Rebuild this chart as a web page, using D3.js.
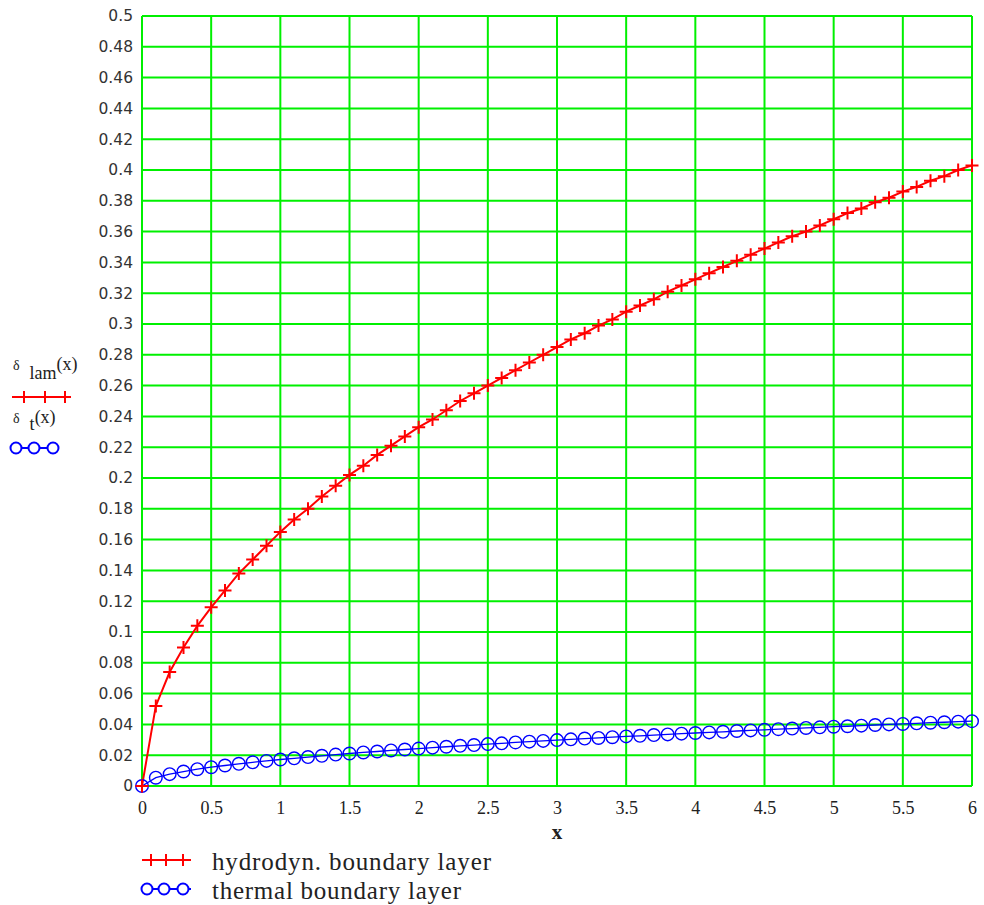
<!DOCTYPE html>
<html>
<head>
<meta charset="utf-8">
<script src="https://cdn.jsdelivr.net/npm/d3@7"></script>
<style>
  body { margin: 0; background: #fff; }
  .y.axis text { font-family: "DejaVu Sans", sans-serif; font-size: 15.5px; fill: #333; }
  .x.axis text { font-family: "Liberation Serif", serif; font-size: 18px; fill: #222; }
  .axis .domain { display: none; }
  .grid line { stroke: #00f000; stroke-width: 2; }
  .lbl { font-family: "Liberation Serif", serif; fill: #222; }
</style>
</head>
<body>
<svg id="chart" width="984" height="905"></svg>
<script>
const xValues = d3.range(61).map(i => i / 10);
const hydroValues = [0, 0.052, 0.074, 0.090, 0.104, 0.116, 0.127, 0.138, 0.147, 0.156,
  0.165, 0.173, 0.180, 0.188, 0.195, 0.202, 0.208, 0.215, 0.221, 0.227,
  0.233, 0.238, 0.244, 0.250, 0.255, 0.260, 0.265, 0.270, 0.275, 0.280,
  0.285, 0.290, 0.294, 0.299, 0.303, 0.308, 0.312, 0.316, 0.321, 0.325,
  0.329, 0.333, 0.337, 0.341, 0.345, 0.349, 0.353, 0.357, 0.360, 0.364,
  0.368, 0.372, 0.375, 0.379, 0.382, 0.386, 0.389, 0.393, 0.396, 0.400, 0.403];
const thermalValues = [0, 0.0054, 0.0077, 0.0094, 0.0109, 0.0122, 0.0133, 0.0144, 0.0154, 0.0163,
  0.0172, 0.0180, 0.0188, 0.0196, 0.0204, 0.0211, 0.0218, 0.0224, 0.0231, 0.0237,
  0.0243, 0.0249, 0.0255, 0.0261, 0.0266, 0.0272, 0.0277, 0.0283, 0.0288, 0.0293,
  0.0298, 0.0303, 0.0308, 0.0312, 0.0317, 0.0322, 0.0326, 0.0331, 0.0335, 0.0340,
  0.0344, 0.0348, 0.0352, 0.0357, 0.0361, 0.0365, 0.0369, 0.0373, 0.0377, 0.0381,
  0.0385, 0.0388, 0.0392, 0.0396, 0.0400, 0.0403, 0.0407, 0.0411, 0.0414, 0.0418, 0.0421];
const xTicks = d3.range(13).map(i => i / 2);
const yTicks = d3.range(26).map(i => i / 50);
const legendLabels = ['hydrodyn. boundary layer', 'thermal boundary layer'];

const margin = {left: 142, right: 12, top: 16, bottom: 119};
const width = 984 - margin.left - margin.right;
const height = 905 - margin.top - margin.bottom;

const svg = d3.select('#chart');
const g = svg.append('g').attr('transform', `translate(${margin.left},${margin.top})`);

const x = d3.scaleLinear().domain([0, 6]).range([0, width]);
const y = d3.scaleLinear().domain([0, 0.5]).range([height, 0]);

// grid
g.append('g').attr('class', 'grid')
    .selectAll('line').data(xTicks).join('line')
    .attr('x1', d => x(d)).attr('x2', d => x(d)).attr('y1', 0).attr('y2', height);
g.append('g').attr('class', 'grid')
    .selectAll('line').data(yTicks).join('line')
    .attr('x1', 0).attr('x2', width).attr('y1', d => y(d)).attr('y2', d => y(d));

g.append('g').attr('class', 'y axis')
    .call(d3.axisLeft(y).tickValues(yTicks).tickSize(0).tickPadding(9).tickFormat(d => +d.toFixed(2)));
g.append('g').attr('class', 'x axis')
    .attr('transform', `translate(0,${height})`)
    .call(d3.axisBottom(x).tickValues(xTicks).tickSize(0).tickPadding(15).tickFormat(d => d));

const line = d3.line().x((d, i) => x(xValues[i])).y(d => y(d));

g.append('path').attr('d', line(thermalValues))
    .attr('fill', 'none').attr('stroke', '#0000ff').attr('stroke-width', 1.3);
g.append('path').attr('d', line(hydroValues))
    .attr('fill', 'none').attr('stroke', '#ff0000').attr('stroke-width', 2);

g.append('g').selectAll('circle').data(thermalValues).join('circle')
    .attr('cx', (d, i) => x(xValues[i])).attr('cy', d => y(d)).attr('r', 6.3)
    .attr('fill', 'none').attr('stroke', '#0000ff').attr('stroke-width', 1.4);

const plus = (sel, s) => sel.attr('d', `M${-s},0H${s}M0,${-s}V${s}`);
g.append('g').selectAll('path').data(hydroValues).join('path')
    .attr('transform', (d, i) => `translate(${x(xValues[i])},${y(d)})`)
    .call(plus, 6.5)
    .attr('fill', 'none').attr('stroke', '#ff0000').attr('stroke-width', 2);

// x label
svg.append('text').attr('class', 'lbl').attr('x', 557).attr('y', 839)
    .attr('text-anchor', 'middle').attr('font-size', 21).attr('font-weight', 'bold').text('x');

// series samples
const sample = (parent, sx, sy, kind, marks) => {
  const s = parent.append('g').attr('transform', `translate(${sx},${sy})`);
  const color = kind === 'plus' ? '#ff0000' : '#0000ff';
  s.append('line').attr('x1', 0).attr('x2', 49).attr('stroke', color).attr('stroke-width', 2);
  marks.forEach(px => {
    if (kind === 'plus') {
      s.append('path').attr('transform', `translate(${px},0)`)
          .call(plus, 6).attr('stroke', color).attr('stroke-width', 2);
    } else {
      s.append('circle').attr('cx', px).attr('r', 5.5).attr('fill', '#fff')
          .attr('stroke', color).attr('stroke-width', 2);
    }
  });
};

const lam = svg.append('text').attr('class', 'lbl').attr('x', 13).attr('y', 370).attr('font-size', 18);
lam.append('tspan').attr('font-size', 14).text('δ');
lam.append('tspan').attr('dx', 10).attr('dy', 9).text('lam');
lam.append('tspan').attr('dy', -9).text('(x)');
sample(svg, 12, 397, 'plus', [12, 33, 53]);

const th = svg.append('text').attr('class', 'lbl').attr('x', 13).attr('y', 423).attr('font-size', 18);
th.append('tspan').attr('font-size', 14).text('δ');
th.append('tspan').attr('dx', 10).attr('dy', 7).text('t');
th.append('tspan').attr('dy', -7).text('(x)');
sample(svg, 10, 448, 'circle', [6, 24, 43]);

// bottom legend
legendLabels.forEach((label, i) => {
  const ly = 860 + i * 29;
  sample(svg, 142, ly, i === 0 ? 'plus' : 'circle', i === 0 ? [9, 24, 41] : [5, 22, 41]);
  svg.append('text').attr('class', 'lbl').attr('x', 212).attr('y', ly + 10)
      .attr('font-size', 25)
      .attr('textLength', i === 0 ? 279 : 249).attr('lengthAdjust', 'spacing')
      .text(label);
});
</script>
</body>
</html>
